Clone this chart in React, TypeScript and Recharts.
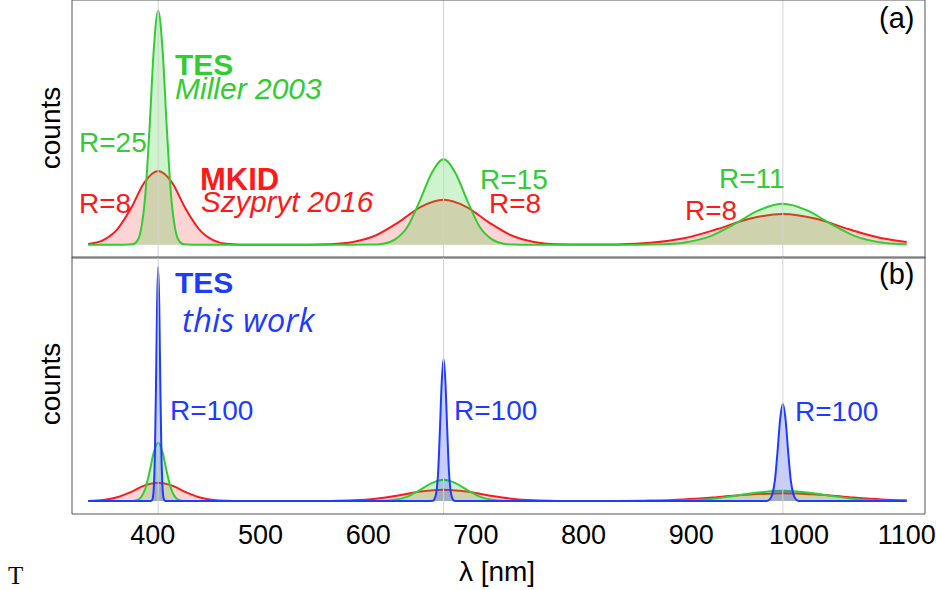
import React from 'react';
import { AreaChart, Area, XAxis, YAxis, ReferenceLine } from 'recharts';

// wavelength axis [nm]
const xDomain = [325, 1117];
const majorTicks = [400, 500, 600, 700, 800, 900, 1000, 1100];
const minorTicks = [340, 360, 380, 400, 420, 440, 460, 480, 500, 520, 540, 560, 580, 600, 620, 640, 660, 680,
  700, 720, 740, 760, 780, 800, 820, 840, 860, 880, 900, 920, 940, 960, 980, 1000, 1020, 1040, 1060, 1080, 1100];
const lineWavelengths = [405, 670, 985];

// counts (arb. units, TES Miller 405 nm peak = 100): [lambda, counts]
const tesMiller: [number, number][] = [
  [340, 0], [373, 0], [381, 0.2], [385, 1.3], [389, 6.3], [393, 21], [397, 50], [401, 84], [405, 100],
  [409, 84], [413, 50], [417, 21], [421, 6.3], [425, 1.3], [429, 0.2], [437, 0],
  [581, 0], [603, 0.07], [614, 0.48], [625, 2.3], [636.5, 7.7], [647.5, 18.3], [659, 30.7], [670, 36.5],
  [681, 30.7], [692.5, 18.3], [703.5, 7.7], [715, 2.3], [726, 0.48], [737, 0.07], [759, 0],
  [806, 0], [851, 0.03], [873, 0.23], [895.5, 1.1], [918, 3.7], [940, 8.8], [962.5, 14.7], [985, 17.5],
  [1007.5, 14.7], [1030, 8.8], [1052, 3.7], [1074.5, 1.1], [1097, 0.25], [1100, 0.2],
];

const mkidSzypryt: [number, number][] = [
  [340, 0.32], [354, 2.0], [367, 6.6], [380, 15.8], [392, 26.5], [405, 31.5], [418, 26.5], [430, 15.8],
  [443, 6.6], [456, 2.0], [468, 0.41], [481, 0.06], [506, 0],
  [544, 0.04], [565, 0.25], [586, 1.2], [607, 4.0], [628, 9.6], [649, 16.2], [670, 19.2], [691, 16.2],
  [712, 9.6], [733, 4.0], [754, 1.2], [775, 0.25], [800, 0.07],
  [831, 0.17], [862, 0.83], [893, 2.8], [923.5, 6.6], [954, 11.1], [985, 13.2], [1016, 11.1],
  [1046.5, 6.6], [1077, 2.8], [1100, 1.2],
];

const tesThisWork: [number, number][] = [
  [340, 0], [397, 0], [399, 0.8], [400, 5.2], [401, 25], [402, 84], [403, 200], [404, 336], [405, 400],
  [406, 336], [407, 200], [408, 84], [409, 25], [410, 5.2], [411, 0.8], [413, 0],
  [656.5, 0], [660, 0.5], [661.5, 3.2], [663.3, 15.2], [665, 51], [666.6, 121.5], [668.3, 204], [670, 243],
  [671.7, 204], [673.4, 121.5], [675, 51], [676.7, 15.2], [678.5, 3.2], [680, 0.5], [683.5, 0],
  [965, 0], [970, 0.3], [972.5, 2.2], [975, 10.4], [977.6, 35], [980, 83], [982.5, 140], [985, 166],
  [987.5, 140], [990, 83], [992.4, 35], [995, 10.4], [997.5, 2.2], [1000, 0.3], [1005, 0], [1100, 0],
];

const topDomain = [-5.65, 104.6];
const bottomDomain = [-22.1, 417.3];

const GREEN = '#33cc33';
const RED = '#ff1a1a';
const BLUE = '#1e3cff';
const FRAME = '#555';
const sans = "'Liberation Sans', Arial, sans-serif";

const toRows = (pts: [number, number][]) => pts.map(([l, c]) => ({ l, c }));

function Curve({ pts, color, opacity }: { pts: [number, number][]; color: string; opacity: number }) {
  return (
    <Area
      xAxisId="x"
      yAxisId="y"
      data={toRows(pts)}
      dataKey="c"
      type="monotone"
      stroke={color}
      strokeWidth={2}
      fill={color}
      fillOpacity={opacity}
      dot={false}
      activeDot={false}
      isAnimationActive={false}
    />
  );
}

// frame axes are 1px thick (recharts skips axes with zero size), ticks point inward
function Panel({ top, height, margin, yDomain, withLabels, children }: any) {
  const axisCommon = { type: 'number' as const, domain: xDomain, allowDataOverflow: true, height: 1, tick: false, mirror: true };
  return (
    <div style={{ position: 'absolute', left: 0, top, width: 936, height }}>
      <AreaChart width={936} height={height} margin={margin}>
        <XAxis xAxisId="x" dataKey="l" orientation="bottom" ticks={majorTicks} tickSize={7} {...axisCommon}
          tickLine={{ stroke: FRAME }} axisLine={{ stroke: FRAME }} />
        <XAxis xAxisId="xTop" dataKey="l" orientation="top" ticks={majorTicks} tickSize={7} {...axisCommon}
          tickLine={{ stroke: FRAME }} axisLine={{ stroke: FRAME }} />
        <XAxis xAxisId="xMinor" dataKey="l" orientation="bottom" ticks={minorTicks} tickSize={4} {...axisCommon}
          tickLine={{ stroke: FRAME }} axisLine={false} />
        <XAxis xAxisId="xTopMinor" dataKey="l" orientation="top" ticks={minorTicks} tickSize={4} {...axisCommon}
          tickLine={{ stroke: FRAME }} axisLine={false} />
        {withLabels && (
          <XAxis xAxisId="xLabels" dataKey="l" type="number" orientation="bottom" domain={xDomain} allowDataOverflow
            height={1} ticks={majorTicks} interval={0} tickLine={false} axisLine={false} tickSize={0} tickMargin={11}
            tick={{ fontSize: 27, fill: '#000', fontFamily: sans }} />
        )}
        <YAxis yAxisId="y" type="number" domain={yDomain} allowDataOverflow width={1} tick={false} tickLine={false}
          axisLine={{ stroke: FRAME }} />
        <YAxis yAxisId="yRight" orientation="right" type="number" domain={yDomain} allowDataOverflow width={1}
          tick={false} tickLine={false} axisLine={{ stroke: FRAME }} />
        {lineWavelengths.map((w) => (
          <ReferenceLine key={w} xAxisId="x" yAxisId="y" x={w} stroke="#d2d2d2" strokeWidth={1} />
        ))}
        {children}
      </AreaChart>
    </div>
  );
}

export default function App() {
  return (
    <div style={{ position: 'absolute', left: 0, top: 0, width: 936, height: 590, background: '#fff' }}>
      <Panel top={0} height={260} margin={{ top: 0, right: 10, bottom: 2, left: 71 }} yDomain={topDomain}>
        <Curve pts={mkidSzypryt} color={RED} opacity={0.19} />
        <Curve pts={tesMiller} color={GREEN} opacity={0.24} />
      </Panel>
      <Panel top={250} height={340} margin={{ top: 7, right: 10, bottom: 75, left: 71 }} yDomain={bottomDomain} withLabels>
        <Curve pts={mkidSzypryt} color={RED} opacity={0.19} />
        <Curve pts={tesMiller} color={GREEN} opacity={0.24} />
        <Curve pts={tesThisWork} color={BLUE} opacity={0.25} />
      </Panel>

      <svg width={936} height={590} style={{ position: 'absolute', left: 0, top: 0, pointerEvents: 'none' }}>
        <g fontFamily={sans} fontSize={28}>
          <text x={60} y={128} transform="rotate(-90 60 128)" textAnchor="middle" fill="#000">counts</text>
          <text x={60} y={384} transform="rotate(-90 60 384)" textAnchor="middle" fill="#000">counts</text>
          <text x={879} y={28} fontSize={29} fill="#000">(a)</text>
          <text x={879} y={284} fontSize={29} fill="#000">(b)</text>
          <text x={497} y={581} textAnchor="middle" fill="#000">λ [nm]</text>

          <text x={175} y={75} fontWeight="bold" fontSize={30} fill={GREEN}>TES</text>
          <text x={175} y={99} fontStyle="italic" fontSize={30} fill={GREEN}>Miller 2003</text>
          <text x={79} y={152} fill={GREEN}>R=25</text>
          <text x={200} y={190} fontWeight="bold" fontSize={31} fill={RED}>MKID</text>
          <text x={201} y={212} fontStyle="italic" fontSize={29.5} fill={RED}>Szypryt 2016</text>
          <text x={79} y={213} fill={RED}>R=8</text>
          <text x={480} y={189} fill={GREEN}>R=15</text>
          <text x={489} y={213} fill={RED}>R=8</text>
          <text x={719} y={188} fill={GREEN}>R=11</text>
          <text x={685} y={220} fill={RED}>R=8</text>

          <text x={175} y={293} fontWeight="bold" fontSize={30} fill={BLUE}>TES</text>
          <text x={182} y={332} fontFamily="'Open Sans', sans-serif" fontStyle="italic" fontSize={33} fill={BLUE}>this work</text>
          <text x={170} y={420} fill={BLUE}>R=100</text>
          <text x={454} y={420} fill={BLUE}>R=100</text>
          <text x={795} y={421} fill={BLUE}>R=100</text>
        </g>
        <text x={8} y={584} fontFamily="'Liberation Serif', serif" fontSize={25} fill="#000">T</text>
      </svg>
    </div>
  );
}
